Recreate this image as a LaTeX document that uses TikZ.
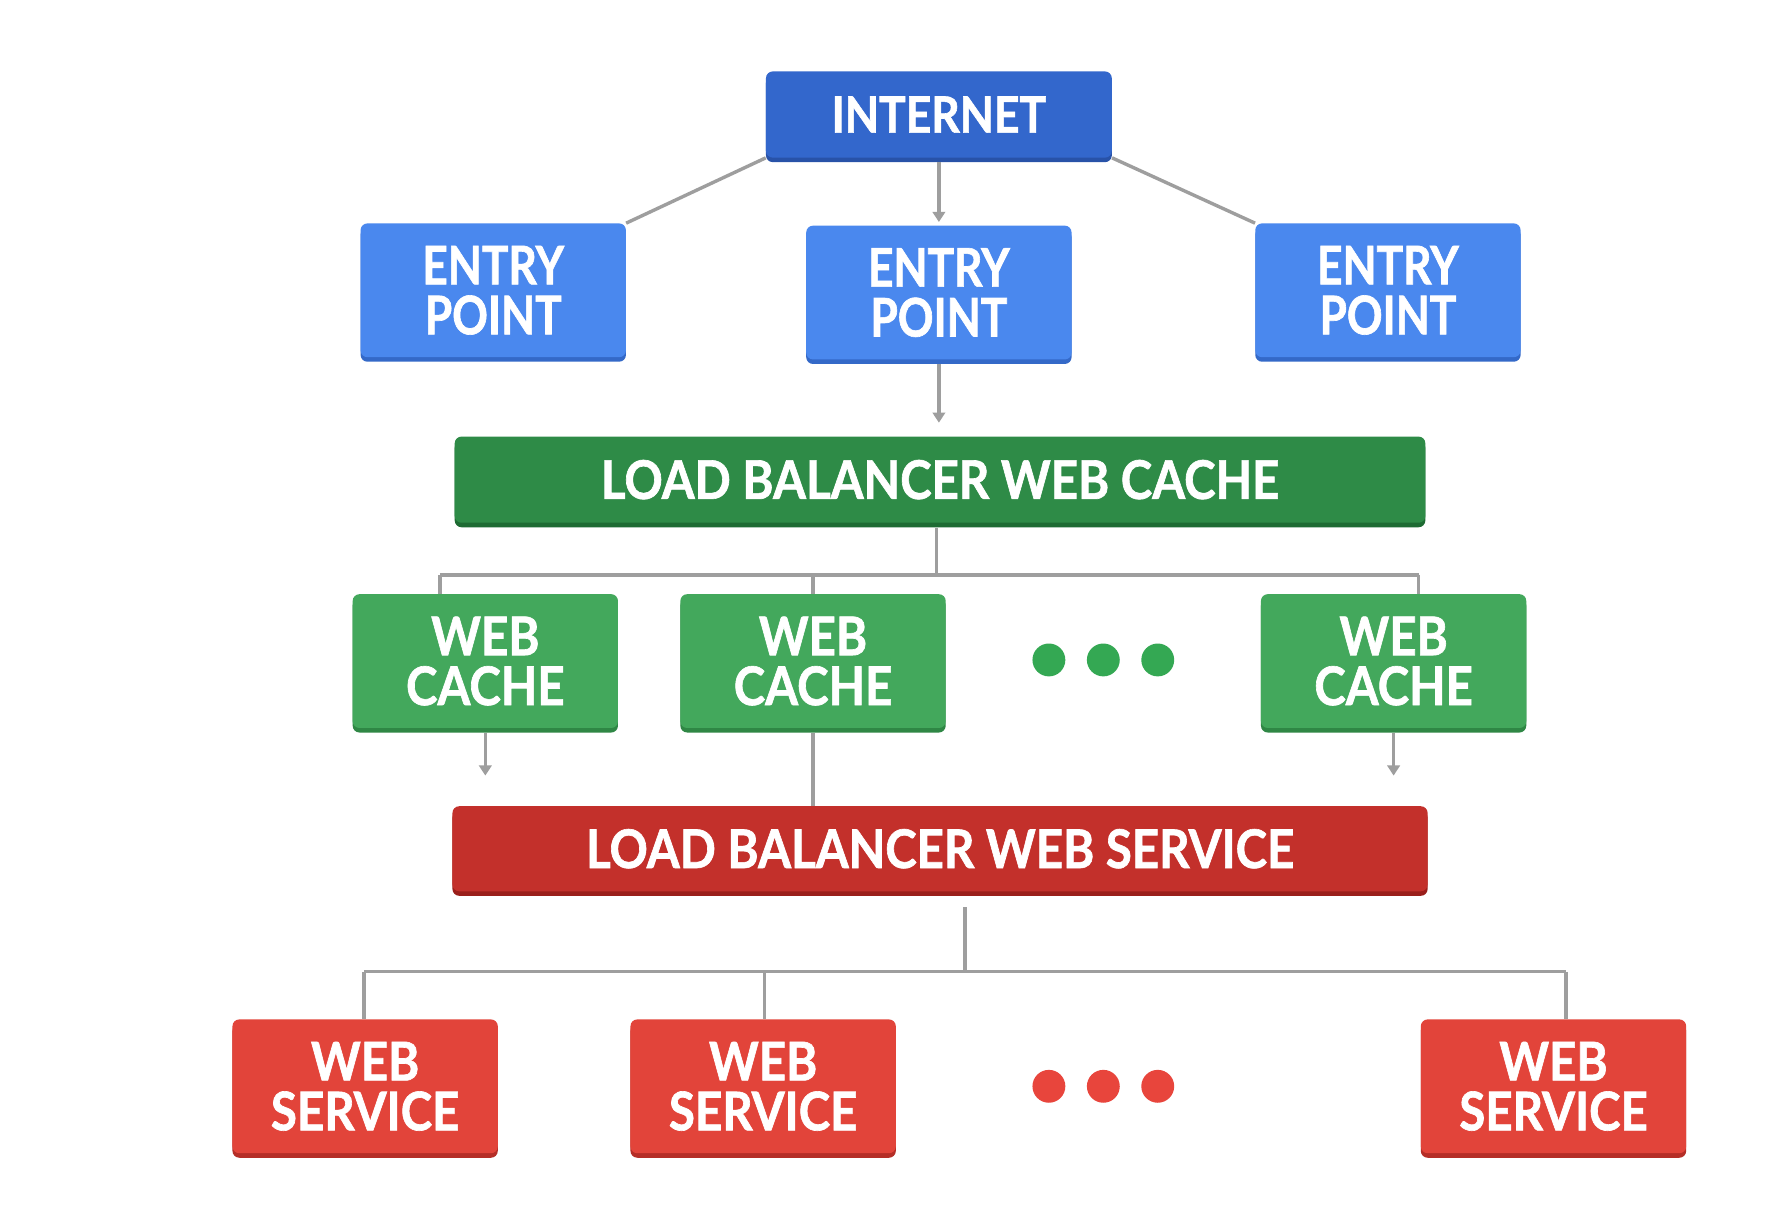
\documentclass[tikz,border=0pt]{standalone}
\usepackage{fontspec}
\setmainfont{Lato}[FakeStretch=0.89]
\usetikzlibrary{arrows.meta,calc}
\definecolor{inetc}{HTML}{3367CC}
\definecolor{inetd}{HTML}{2852A8}
\definecolor{epc}{HTML}{4A88EE}
\definecolor{epd}{HTML}{3469C8}
\definecolor{lbcc}{HTML}{2E8B47}
\definecolor{lbcd}{HTML}{1E6B33}
\definecolor{wcc}{HTML}{43A85C}
\definecolor{wcd}{HTML}{2F8745}
\definecolor{lbsc}{HTML}{C3302B}
\definecolor{lbsd}{HTML}{9A1F1B}
\definecolor{wsc}{HTML}{E2443A}
\definecolor{wsd}{HTML}{B52E27}
\definecolor{linec}{HTML}{9E9E9E}
\definecolor{gdot}{HTML}{34A853}
\definecolor{rdot}{HTML}{E8453C}
\tikzset{
  box/.style n args={2}{draw=none, fill=#1, rounded corners=6pt, text=white,
    font=\bfseries\fontsize{47}{44}\selectfont\addfontfeatures{FakeBold=1.2}, align=center, inner sep=0pt,
    preaction={fill=#2, transform canvas={yshift=-4pt}}},
  smallbox/.style={minimum width=234pt, minimum height=118pt},
  epfont/.style={font=\bfseries\fontsize{47}{44}\selectfont\addfontfeatures{FakeStretch=0.83,FakeBold=1.2}},
  conn/.style={draw=linec, line width=3pt},
  arr/.style={conn, -{Triangle[length=9pt,width=11pt]}},
  dotg/.style={circle, fill=gdot, minimum size=29pt, inner sep=0pt},
  dotr/.style={circle, fill=rdot, minimum size=29pt, inner sep=0pt},
}
\begin{document}
\begin{tikzpicture}[x=1pt,y=-1pt]
\useasboundingbox[fill=white] (0,0) rectangle (1568,1064);
% nodes
\node[box={inetc}{inetd}, minimum width=305pt, minimum height=76pt, font=\bfseries\fontsize{44}{44}\selectfont\addfontfeatures{FakeBold=1.2}] (inet) at (828,101) {INTERNET};
\node[box={epc}{epd}, smallbox, epfont] (ep1) at (435,256) {ENTRY\\POINT};
\node[box={epc}{epd}, smallbox, epfont] (ep2) at (828,258) {ENTRY\\POINT};
\node[box={epc}{epd}, smallbox, epfont] (ep3) at (1224,256) {ENTRY\\POINT};
\node[box={lbcc}{lbcd}, minimum width=856pt, minimum height=76pt] (lbc) at (829,423) {LOAD BALANCER WEB CACHE};
\node[box={wcc}{wcd}, smallbox] (wc1) at (428,583) {WEB\\CACHE};
\node[box={wcc}{wcd}, smallbox] (wc2) at (717,583) {WEB\\CACHE};
\node[box={wcc}{wcd}, smallbox] (wc3) at (1229,583) {WEB\\CACHE};
\node[dotg] (g1) at (925,582) {};
\node[dotg] (g2) at (973,582) {};
\node[dotg] (g3) at (1021,582) {};
\node[box={lbsc}{lbsd}, minimum width=860pt, minimum height=75pt] (lbs) at (829,748.5) {LOAD BALANCER WEB SERVICE};
\node[box={wsc}{wsd}, smallbox] (ws1) at (322,958) {WEB\\SERVICE};
\node[box={wsc}{wsd}, smallbox] (ws2) at (673,958) {WEB\\SERVICE};
\node[box={wsc}{wsd}, smallbox] (ws3) at (1370,958) {WEB\\SERVICE};
\node[dotr] (r1) at (925,958) {};
\node[dotr] (r2) at (973,958) {};
\node[dotr] (r3) at (1021,958) {};
% coordinates
\coordinate (lbcstem) at (826,466);
\coordinate (cbus) at (826,507);
\coordinate (cb1) at (388,507);
\coordinate (cb2) at (717,507);
\coordinate (cb3) at (1251,507);
\coordinate (wc1end) at (428,684);
\coordinate (wc3end) at (1229,684);
\coordinate (lbsstem) at (851,800);
\coordinate (sbus) at (851,857);
\coordinate (sb1) at (321,857);
\coordinate (sb2) at (674,857);
\coordinate (sb3) at (1381,857);
% connectors
\draw[conn] (inet.south west) -- (ep1.north east);
\draw[conn] (inet.south east) -- (ep3.north west);
\draw[arr, shorten >=3pt] (inet.south) ++(0,4) -- (ep2.north);
\draw[arr, shorten >=12pt] (ep2.south) ++(0,4) -- (lbc.north -| ep2.south);
\draw[conn] (lbcstem) -- (cbus);
\draw[conn] (cb1) -- (cb3);
\draw[conn] (cb1) -- (cb1 |- wc1.north);
\draw[conn] (cb2) -- (wc2.north);
\draw[conn] (cb3) -- (cb3 |- wc3.north);
\draw[arr] ($(wc1.south)+(0,4)$) -- (wc1end);
\draw[arr] ($(wc3.south)+(0,4)$) -- (wc3end);
\draw[conn] ($(wc2.south)+(0,4)$) -- (wc2.south |- lbs.north);
\draw[conn] (lbsstem) -- (sbus);
\draw[conn] (sb1) -- (sb3);
\draw[conn] (sb1) -- (sb1 |- ws1.north);
\draw[conn] (sb2) -- (sb2 |- ws2.north);
\draw[conn] (sb3) -- (sb3 |- ws3.north);
\end{tikzpicture}
\end{document}
